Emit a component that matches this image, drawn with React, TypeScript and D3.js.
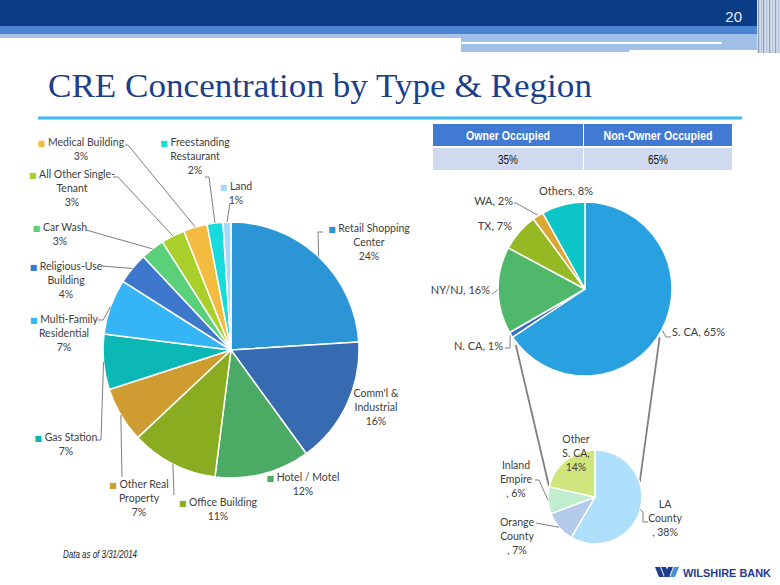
import React from "react";
import * as d3 from "d3";

// ---------- DATA ----------
const typeCategories = [
  "Retail Shopping Center",
  "Comm'l & Industrial",
  "Hotel / Motel",
  "Office Building",
  "Other Real Property",
  "Gas Station",
  "Multi-Family Residential",
  "Religious-Use Building",
  "Car Wash",
  "All Other Single-Tenant",
  "Medical Building",
  "Freestanding Restaurant",
  "Land",
];
const typeValues = [24, 16, 12, 11, 7, 7, 7, 4, 3, 3, 3, 2, 1];
const typeColors = [
  "#2b95d6", "#376bb1", "#4baa63", "#8aac20", "#cf9c31", "#0cb8b5", "#35b5f6",
  "#3d78cc", "#5ad07a", "#a9cf2b", "#f3bb3f", "#18dbdb", "#a9d9f9",
];
const typeLabelLines = [
  ["Retail Shopping", "Center"],
  ["Comm'l &", "Industrial"],
  ["Hotel / Motel"],
  ["Office Building"],
  ["Other Real", "Property"],
  ["Gas Station"],
  ["Multi-Family", "Residential"],
  ["Religious-Use", "Building"],
  ["Car Wash"],
  ["All Other Single-", "Tenant"],
  ["Medical Building"],
  ["Freestanding", "Restaurant"],
  ["Land"],
];

const regionCategories = ["S. CA", "N. CA", "NY/NJ", "TX", "WA", "Others"];
const regionValues = [65, 1, 16, 7, 2, 8];
const regionColors = ["#29a0e0", "#3a6fc0", "#4fb86a", "#96b822", "#d9a732", "#0cc5c6"];

const scaCategories = ["LA County", "Orange County", "Inland Empire", "Other S. CA"];
const scaValues = [38, 7, 6, 14];
const scaColors = ["#aedffb", "#b3caec", "#bfedcd", "#d0e57c"];
const scaLabelLines = [["LA", "County"], ["Orange", "County"], ["Inland", "Empire"], ["Other", "S. CA,"]];

const occupancyHeaders = ["Owner Occupied", "Non-Owner Occupied"];
const occupancyValues = [35, 65];

// ---------- LAYOUT ----------
const W = 780, H = 585;
const typeCenter = [231, 350], typeR = 128;
const regionCenter = [585, 289], regionR = 87;
const scaCenter = [595, 497], scaR = 47;

// label anchor (cx, first baseline) for type pie
const typeLabelPos = [
  [369, 232], [376, 397], [303, 481], [218, 506], [139, 488], [66, 441], [64, 323],
  [66, 270], [60, 231], [72, 178], [81, 146], [195, 146], [236, 190],
];
const typeMarker = [true, false, true, true, true, true, true, true, true, true, true, true, true];
// leader path points after the pie-edge point
const typeLeaders: (number[][] | null)[] = [
  [[318, 232], [323, 232]],
  null,
  null,
  [[174, 495]],
  [[122, 477]],
  [[101, 440], [96, 440]],
  [[103, 320], [98, 320]],
  [[101, 266]],
  [[86, 230]],
  [[118, 177], [113, 177]],
  [[128, 145], [125, 145]],
  [[209, 177], [205, 177]],
  [[230, 203]],
];

const regionLabelPos = [
  [672, 336, "start"], [503, 350, "end"], [490, 294, "end"], [512, 230, "end"],
  [513, 205, "end"], [566, 195, "middle"],
];
const regionLeaders: (number[][] | null)[] = [
  [[666, 337], [671, 337]],
  [[510, 342], [510, 348], [505, 348]],
  [[492, 294]],
  null,
  [[516, 203], [514, 203]],
  null,
];

const scaLabelPos = [[665, 508], [517, 526], [516, 469], [576, 443]];
const scaLeaders: (number[][] | null)[] = [
  [[643, 512], [643, 522], [648, 522]],
  [[536, 523]],
  [[539, 480], [535, 480]],
  null,
];

// connector lines (angles in degrees clockwise from 12 o'clock)
const connectors = [
  { bigAngle: 231, bigR: 89, smallAngle: 282.5, smallR: 47 },
  { bigAngle: 123, bigR: 89, smallAngle: 72, smallR: 47 },
];

const polar = (c: number[], deg: number, r: number) => {
  const a = (deg * Math.PI) / 180;
  return [c[0] + Math.sin(a) * r, c[1] - Math.cos(a) * r];
};

function midPoint(a: d3.PieArcDatum<number>, c: number[], r: number) {
  const m = (a.startAngle + a.endAngle) / 2;
  return [c[0] + Math.sin(m) * r, c[1] - Math.cos(m) * r];
}

const pieGen = d3.pie<number>().sort(null).value((d) => d);
const line = d3.line();

const labelFont = "Lato, 'Open Sans', sans-serif";
const textColor = "#404040";

function Pie({ values, colors, center, r }: { values: number[]; colors: string[]; center: number[]; r: number }) {
  const arcs = pieGen(values);
  const arcGen = d3.arc<d3.PieArcDatum<number>>().innerRadius(0).outerRadius(r);
  return (
    <g transform={`translate(${center[0]},${center[1]})`}>
      {arcs.map((a, i) => (
        <path key={i} d={arcGen(a) || ""} fill={colors[i]} stroke="#fff" strokeWidth={1.5} strokeLinejoin="round" />
      ))}
    </g>
  );
}

export default function App() {
  const typeArcs = pieGen(typeValues);
  const regionArcs = pieGen(regionValues);
  const scaArcs = pieGen(scaValues);

  return (
    <svg width={W} height={H} viewBox={`0 0 ${W} ${H}`} style={{ display: "block", position: "absolute", left: 0, top: 0 }}>
      <rect x={0} y={0} width={W} height={H} fill="#fff" />
      {/* header */}
      <rect x={0} y={0} width={757} height={26} fill="#0b3d86" />
      <rect x={0} y={26} width={757} height={8} fill="#4a84d1" />
      <rect x={0} y={34} width={461} height={4} fill="#a9c3e8" />
      <rect x={461} y={34} width={296} height={18} fill="#a0c0ea" />
      <rect x={461} y={42} width={261} height={2} fill="#ffffff" />
      <rect x={629} y={50} width={128} height={4} fill="#ffffff" />
      <rect x={757} y={0} width={23} height={53} fill="#d3dcea" />
      {[758, 761, 763, 766, 769, 772, 775, 778].map((x, i) => (
        <rect key={i} x={x} y={0} width={1.2} height={53} fill={i % 2 === 0 ? "#8f9fb8" : "#b5c3d8"} />
      ))}
      <text x={742} y={22} textAnchor="end" fontFamily="'Liberation Sans', Arial, sans-serif" fontSize={15} fill="#e6ecf6">20</text>

      {/* title */}
      <text x={48} y={97} fontFamily="'Liberation Serif', 'DejaVu Serif', serif" fontSize={34} fill="#1c3f8c" textLength={544} lengthAdjust="spacingAndGlyphs">
        CRE Concentration by Type &amp; Region
      </text>
      <rect x={38} y={116.5} width={704} height={3} fill="#3fb8f8" />

      {/* table */}
      {occupancyHeaders.map((h, i) => {
        const x0 = i === 0 ? 433 : 584;
        const w = i === 0 ? 150 : 148;
        return (
          <g key={i}>
            <rect x={x0} y={124} width={w} height={22} fill="#4279d3" />
            <rect x={x0} y={148} width={w} height={22} fill="#cfd9ef" />
            <text x={x0 + w / 2} y={140} textAnchor="middle" fontFamily="'Liberation Sans', Arial, sans-serif" fontWeight="bold" fontSize={12.5} fill="#fff" textLength={i === 0 ? 84 : 109} lengthAdjust="spacingAndGlyphs">{h}</text>
            <text x={x0 + w / 2} y={164} textAnchor="middle" fontFamily="'Liberation Sans', Arial, sans-serif" fontSize={12.5} fill="#111" textLength={20} lengthAdjust="spacingAndGlyphs">{`${occupancyValues[i]}%`}</text>
          </g>
        );
      })}

      {/* connectors */}
      {connectors.map((c, i) => {
        const p1 = polar(regionCenter, c.bigAngle, c.bigR);
        const p2 = polar(scaCenter, c.smallAngle, c.smallR);
        return <line key={i} x1={p1[0]} y1={p1[1]} x2={p2[0]} y2={p2[1]} stroke="#808080" strokeWidth={1.8} />;
      })}

      {/* pies */}
      <Pie values={typeValues} colors={typeColors} center={typeCenter} r={typeR} />
      <Pie values={regionValues} colors={regionColors} center={regionCenter} r={regionR} />
      <Pie values={scaValues} colors={scaColors} center={scaCenter} r={scaR} />

      {/* type leaders + labels */}
      {typeArcs.map((a, i) => {
        const pts = typeLeaders[i];
        if (!pts) return null;
        const start = midPoint(a, typeCenter, typeR);
        return <path key={"tl" + i} d={line([start as [number, number], ...(pts as [number, number][])]) || ""} fill="none" stroke="#7f7f7f" strokeWidth={1} />;
      })}
      {typeCategories.map((c, i) => {
        const [cx, y0] = typeLabelPos[i];
        const lines = [...typeLabelLines[i], `${typeValues[i]}%`];
        return (
          <text key={"t" + i} textAnchor="middle" fontFamily={labelFont} fontSize={10.5} fill={textColor}>
            {lines.map((ln, j) => (
              <tspan key={j} x={cx} y={y0 + j * 14}>
                {j === 0 && typeMarker[i] ? (
                  <tspan fill={typeColors[i]} fontSize={8} fontFamily="'DejaVu Sans', sans-serif">{"\u25A0 "}</tspan>
                ) : null}
                {ln}
              </tspan>
            ))}
          </text>
        );
      })}

      {/* region leaders + labels */}
      {regionArcs.map((a, i) => {
        const pts = regionLeaders[i];
        if (!pts) return null;
        const start = midPoint(a, regionCenter, regionR + 1);
        return <path key={"rl" + i} d={line([start as [number, number], ...(pts as [number, number][])]) || ""} fill="none" stroke="#7f7f7f" strokeWidth={1} />;
      })}
      {regionCategories.map((c, i) => {
        const [x, y, anchor] = regionLabelPos[i] as [number, number, string];
        return (
          <text key={"r" + i} x={x} y={y} textAnchor={anchor as any} fontFamily={labelFont} fontSize={11} fill={textColor}>
            {`${c}, ${regionValues[i]}%`}
          </text>
        );
      })}

      {/* S. CA breakdown leaders + labels */}
      {scaArcs.map((a, i) => {
        const pts = scaLeaders[i];
        if (!pts) return null;
        const start = midPoint(a, scaCenter, scaR);
        return <path key={"sl" + i} d={line([start as [number, number], ...(pts as [number, number][])]) || ""} fill="none" stroke="#7f7f7f" strokeWidth={1} />;
      })}
      {scaCategories.map((c, i) => {
        const [cx, y0] = scaLabelPos[i];
        const last = i === 3 ? `${scaValues[i]}%` : `, ${scaValues[i]}%`;
        const lines = [...scaLabelLines[i], last];
        return (
          <text key={"s" + i} textAnchor="middle" fontFamily={labelFont} fontSize={10.5} fill={textColor}>
            {lines.map((ln, j) => (
              <tspan key={j} x={cx} y={y0 + j * 14}>{ln}</tspan>
            ))}
          </text>
        );
      })}

      {/* footnote */}
      <text x={63} y={558} fontFamily="'Liberation Sans', Arial, sans-serif" fontStyle="italic" fontSize={10} fill="#222" textLength={74} lengthAdjust="spacingAndGlyphs">
        Data as of 3/31/2014
      </text>

      {/* logo */}
      <g>
        <path d="M655,567 L660,567 L664,577 L659,577 Z" fill="#1f3c8c" />
        <path d="M661,567 L666,567 L670,577 L665,577 Z" fill="#1f3c8c" />
        <path d="M668,567 L673,567 L669,577 L664,577 Z" fill="#1f3c8c" />
        <path d="M674,567 L679,567 L675,577 L670,577 Z" fill="#4a8fd8" />
        <text x={683} y={577} fontFamily="'Liberation Sans', Arial, sans-serif" fontWeight="bold" fontSize={11} fill="#1f3c8c" textLength={88} lengthAdjust="spacingAndGlyphs">WILSHIRE BANK</text>
      </g>
    </svg>
  );
}
